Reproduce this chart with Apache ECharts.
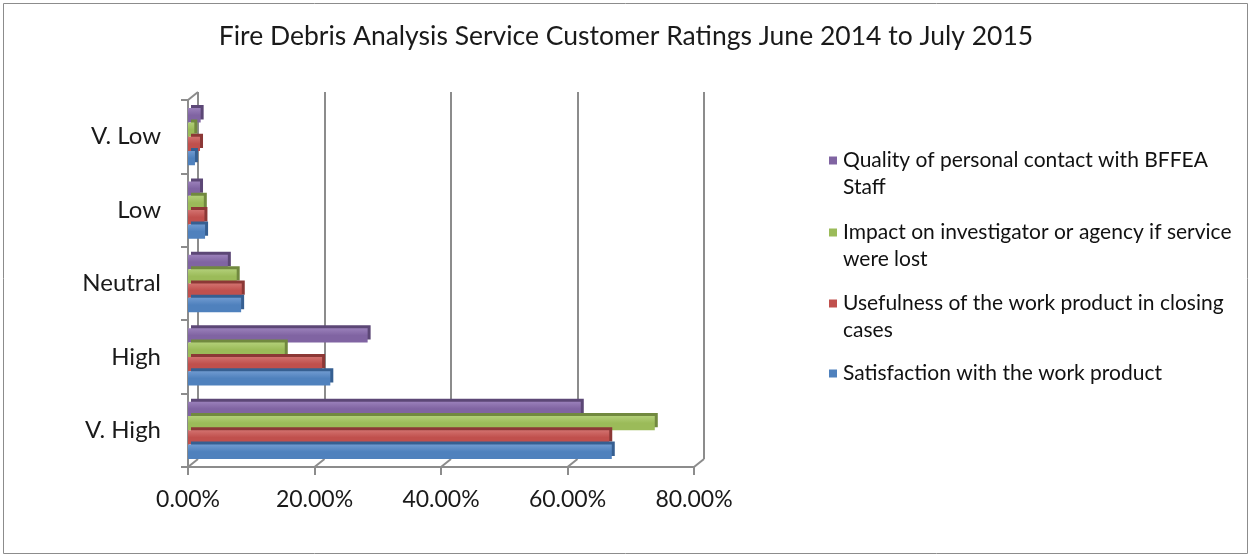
<!DOCTYPE html>
<html>
<head>
<meta charset="utf-8">
<script src="https://cdn.jsdelivr.net/npm/echarts@6/dist/echarts.min.js"></script>
<style>
html,body{margin:0;padding:0;background:#fff;}
#c{width:1252px;height:557px;}
</style>
</head>
<body>
<div id="c"></div>
<script>
// ---- data ----
const categories = ['V. High', 'High', 'Neutral', 'Low', 'V. Low'];
const seriesNames = [
  'Satisfaction with the work product',
  'Usefulness of the work product in closing cases',
  'Impact on investigator or agency if service were lost',
  'Quality of personal contact with BFFEA Staff'
];
const satisfaction = [67.0, 22.5, 8.4, 2.7, 1.1];
const usefulness   = [66.6, 21.2, 8.5, 2.6, 1.9];
const impact       = [73.8, 15.3, 7.7, 2.5, 1.0];
const quality      = [62.1, 28.4, 6.3, 1.9, 2.0];
const xTicks = [0, 20, 40, 60, 80];
const legendLines = [
  ['Satisfaction with the work product'],
  ['Usefulness of the work product in closing', 'cases'],
  ['Impact on investigator or agency if service', 'were lost'],
  ['Quality of personal contact with BFFEA', 'Staff']
];

// ---- style ----
const FONT = 'Lato';
const colors = ['#4F81BD', '#C0504D', '#9BBB59', '#8064A2'];
const lightColors = ['#6F9AD0', '#D2716E', '#B2CF78', '#9A80BA'];
const darkColors = ['#365F91', '#8C3836', '#71893F', '#5C4776'];
const values = [satisfaction, usefulness, impact, quality];

const G = {left: 188, top: 100, width: 506, height: 367};
const BACK = {dx: 10, dy: -8};

const chart = echarts.init(document.getElementById('c'), null, {renderer: 'canvas'});

// In a horizontal bar chart the first series is drawn at the top of each band,
// so add them in reverse (purple on top, blue at the bottom).
const order = [3, 2, 1, 0];
const series = order.map(i => ({
  name: seriesNames[i],
  type: 'bar',
  xAxisIndex: 0,
  yAxisIndex: 0,
  data: values[i],
  barGap: '0%',
  barCategoryGap: '22%',
  z: 5,
  itemStyle: {
    color: new echarts.graphic.LinearGradient(0, 0, 0, 1, [
      {offset: 0, color: lightColors[i]},
      {offset: 0.5, color: colors[i]},
      {offset: 1, color: colors[i]}
    ]),
    shadowColor: darkColors[i],
    shadowOffsetX: 3,
    shadowOffsetY: -3,
    shadowBlur: 0
  },
  emphasis: {disabled: true}
}));

const legendTops = [355, 258, 187, 115];
const legends = legendLines.map((lines, i) => ({
  data: [{name: seriesNames[i], itemStyle: {color: colors[i]}}],
  left: 824,
  top: legendTops[i],
  orient: 'vertical',
  icon: 'rect',
  itemWidth: 8,
  itemHeight: 8,
  selectedMode: false,
  formatter: () => (lines.length > 1 ? '\n' + lines.join('\n') : lines[0]),
  textStyle: {fontFamily: FONT, fontSize: 21, color: '#111', lineHeight: 27, padding: [0, 0, 0, 1]}
}));

const option = {
  animation: false,
  backgroundColor: '#fff',
  color: colors,
  title: {
    text: 'Fire Debris Analysis Service Customer Ratings June 2014 to July 2015',
    left: 'center',
    top: 18,
    textStyle: {fontFamily: FONT, fontSize: 26.5, fontWeight: 'normal', color: '#1a1a1a'}
  },
  legend: legends,
  grid: [
    {left: G.left, top: G.top, width: G.width, height: G.height, containLabel: false},
    {left: G.left + BACK.dx, top: G.top + BACK.dy, width: G.width, height: G.height, containLabel: false}
  ],
  xAxis: [
    {
      type: 'value', gridIndex: 0, min: 0, max: 80, interval: 20,
      axisLine: {show: true, lineStyle: {color: '#8c8c8c', width: 2}},
      axisTick: {show: true, length: 8, lineStyle: {color: '#8c8c8c', width: 2}},
      splitLine: {show: false},
      axisLabel: {
        margin: 21, fontFamily: FONT, fontSize: 23, color: '#1a1a1a',
        formatter: v => v.toFixed(2) + '%'
      }
    },
    {
      type: 'value', gridIndex: 1, min: 0, max: 80, interval: 20,
      axisLine: {show: false}, axisTick: {show: false}, axisLabel: {show: false},
      splitLine: {show: true, lineStyle: {color: '#8c8c8c', width: 2}}
    }
  ],
  yAxis: [
    {
      type: 'category', gridIndex: 0, data: categories,
      axisLine: {show: true, lineStyle: {color: '#8c8c8c', width: 2}},
      axisTick: {show: true, length: 7, lineStyle: {color: '#8c8c8c', width: 2}},
      axisLabel: {margin: 27, fontFamily: FONT, fontSize: 24, color: '#1a1a1a'}
    },
    {
      type: 'category', gridIndex: 1, data: categories,
      axisLine: {show: false}, axisTick: {show: false}, axisLabel: {show: false}
    }
  ],
  series: series
};

chart.setOption(option);

// floor / wall edge diagonals connecting the front axis to the back wall
const gfx = [];
const yFront = G.top + G.height;
xTicks.forEach(v => {
  const x = chart.convertToPixel({xAxisIndex: 0}, v);
  gfx.push({
    type: 'line', z: 1,
    shape: {x1: x, y1: yFront, x2: x + BACK.dx, y2: yFront + BACK.dy},
    style: {stroke: '#8c8c8c', lineWidth: 2}
  });
});
const x0 = chart.convertToPixel({xAxisIndex: 0}, 0);
gfx.push({
  type: 'line', z: 1,
  shape: {x1: x0, y1: G.top, x2: x0 + BACK.dx, y2: G.top + BACK.dy},
  style: {stroke: '#8c8c8c', lineWidth: 2}
});
gfx.push({
  type: 'rect', z: 0, silent: true,
  shape: {x: 3.5, y: 3.5, width: 1244, height: 550},
  style: {fill: null, stroke: '#8c8c8c', lineWidth: 1}
});
chart.setOption({graphic: gfx});
</script>
</body>
</html>
